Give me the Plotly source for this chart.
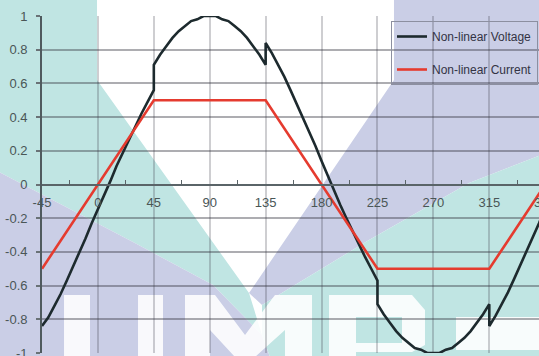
import plotly.graph_objects as go

# ---------------- data ----------------
angle_v = [-45, -40, -35, -30, -25, -20, -15, -10, -5, 0, 5, 10, 15, 20, 25, 30, 35, 40, 45,
           45, 50, 55, 60, 65, 70, 75, 80, 85, 90, 95, 100, 105, 110, 115, 120, 125, 130, 135,
           135, 140, 145, 150, 155, 160, 165, 170, 175, 180, 185, 190, 195, 200, 205, 210, 215, 220, 225,
           225, 230, 235, 240, 245, 250, 255, 260, 265, 270, 275, 280, 285, 290, 295, 300, 305, 310, 315,
           315, 320, 325, 330, 335, 340, 345, 350, 355, 360]
voltage = [-0.84, -0.79, -0.72, -0.65, -0.57, -0.49, -0.40, -0.32, -0.23, -0.15, -0.06, 0.02, 0.11, 0.19, 0.27, 0.35, 0.42, 0.49, 0.56,
           0.71, 0.77, 0.82, 0.87, 0.91, 0.94, 0.97, 0.98, 1.00, 1.00, 1.00, 0.98, 0.97, 0.94, 0.91, 0.87, 0.82, 0.77, 0.71,
           0.84, 0.78, 0.71, 0.64, 0.56, 0.48, 0.40, 0.31, 0.23, 0.14, 0.05, -0.03, -0.12, -0.20, -0.28, -0.36, -0.43, -0.50, -0.57,
           -0.71, -0.77, -0.82, -0.87, -0.91, -0.94, -0.97, -0.98, -1.00, -1.00, -1.00, -0.98, -0.97, -0.94, -0.91, -0.87, -0.82, -0.77, -0.71,
           -0.84, -0.78, -0.71, -0.64, -0.56, -0.48, -0.40, -0.31, -0.23, -0.14]

angle_i = [-45, 45, 135, 225, 315, 360]
current = [-0.5, 0.5, 0.5, -0.5, -0.5, 0.0]

x_ticks = [-45, 0, 45, 90, 135, 180, 225, 270, 315]
x_labels = ["-45", "0", "45", "90", "135", "180", "225", "270", "315"]
y_ticks = [1, 0.8, 0.6, 0.4, 0.2, 0, -0.2, -0.4, -0.6, -0.8, -1]
y_labels = ["1", "0.8", "0.6", "0.4", "0.2", "0", "-0.2", "-0.4", "-0.6", "-0.8", "-1"]

# ---------------- layout geometry ----------------
W, H = 539, 356
ML, MT, MR, MB = 42, 16, 0, 3
PW, PH = W - ML - MR, H - MT - MB


def px(x, y):
    """pixel position on the page -> paper coordinates"""
    return (x - ML) / PW, (H - MB - y) / PH


def poly(points):
    d = ""
    for k, (x, y) in enumerate(points):
        xp, yp = px(x, y)
        d += ("M" if k == 0 else "L") + f"{xp:.4f},{yp:.4f}"
    return d + "Z"


TEAL = "#c0e5e3"
LAV = "#cacee6"
WHITE = "rgba(255,255,255,0.88)"

bg_shapes = []
def add(points, color):
    bg_shapes.append(dict(type="path", xref="paper", yref="paper", path=poly(points),
                          fillcolor=color, line=dict(width=0), layer="below"))

# watermark (decorative background)
add([(-1, -1), (97, -1), (97, 80), (249, 293), (262, 335), (213, 285), (133, 242), (-1, 172)], TEAL)
add([(394, -1), (541, -1), (541, 155), (469, 183), (369, 240), (262, 305), (249, 293), (394, 80)], LAV)
add([(-1, 172), (133, 242), (213, 285), (262, 335), (270, 357), (-1, 357)], LAV)
add([(541, 155), (469, 183), (369, 240), (262, 305), (262, 335), (270, 357), (541, 357)], TEAL)
# white "UMP" letters (partly visible)
add([(64, 295), (90, 295), (90, 357), (64, 357)], WHITE)
add([(138, 295), (163, 295), (163, 357), (138, 357)], WHITE)
add([(185, 295), (215, 295), (245, 335), (275, 295), (312, 295), (312, 357), (285, 357),
     (285, 330), (255, 357), (235, 357), (210, 330), (210, 357), (185, 357)], WHITE)
add([(329, 295), (412, 295), (425, 310), (425, 345), (412, 352), (356, 352), (356, 357), (329, 357)], WHITE)
add([(356, 317), (402, 317), (402, 343), (356, 343)], TEAL)
add([(456, 317), (541, 317), (541, 350), (456, 350)], WHITE)

fig = go.Figure()
fig.add_trace(go.Scatter(x=angle_v, y=voltage, mode="lines", name="Non-linear Voltage",
                         line=dict(color="#1d2a2e", width=2.6), legendgroup="v"))
fig.add_trace(go.Scatter(x=angle_i, y=current, mode="lines", name="Non-linear Current",
                         line=dict(color="#e53b2f", width=2.6), legendgroup="i"))

tick_font = dict(family="Liberation Sans, Arial, sans-serif", size=13, color="#4a5656")

fig.update_layout(
    width=W, height=H,
    margin=dict(l=ML, r=MR, t=MT, b=MB, pad=0, autoexpand=False),
    paper_bgcolor="white",
    plot_bgcolor="rgba(0,0,0,0)",
    shapes=bg_shapes,
    showlegend=True,
    legend=dict(x=px(391, 0)[0], y=px(0, 21)[1], xanchor="left", yanchor="top",
                bgcolor="rgba(0,0,0,0)", bordercolor="#8c8fa0", borderwidth=1,
                font=dict(family="Liberation Sans, Arial, sans-serif", size=12, color="#333344"),
                tracegroupgap=14, itemwidth=30),
    xaxis=dict(range=[-45, 355], tickmode="array", tickvals=x_ticks, ticktext=x_labels,
               automargin=False,
               anchor="free", position=0.5, showline=True, linecolor="#5a6468", linewidth=1.5,
               showgrid=True, gridcolor="rgba(60,60,70,0.25)", gridwidth=1.5,
               zeroline=False, ticks="", tickfont=tick_font, ticklabelstandoff=6,
               minor=dict(ticks="inside", ticklen=4, tickcolor="#5a6468", tickwidth=1,
                          tickmode="array", tickvals=[-22.5, 22.5, 67.5, 112.5, 157.5, 202.5, 247.5, 292.5, 337.5],
                          showgrid=False)),
    yaxis=dict(range=[-1, 1], tickmode="array", tickvals=y_ticks, ticktext=y_labels,
               automargin=False, ticklabeloverflow="allow",
               showline=True, linecolor="#4f5a5e", linewidth=1.8,
               showgrid=True, gridcolor="rgba(50,50,60,0.40)", gridwidth=2,
               zeroline=False, ticks="outside", ticklen=4, tickcolor="#6a7276", tickwidth=1.5,
               tickfont=tick_font, ticklabelstandoff=6),
    annotations=[dict(xref="paper", yref="paper", x=px(545, 0)[0], y=0.5, yshift=-18,
                      text="360", showarrow=False, xanchor="center", yanchor="middle",
                      font=tick_font)],
)

fig.write_html("out.html", config={"displayModeBar": False},
               post_script="document.body.style.margin='0px';document.body.style.overflow='hidden';")
